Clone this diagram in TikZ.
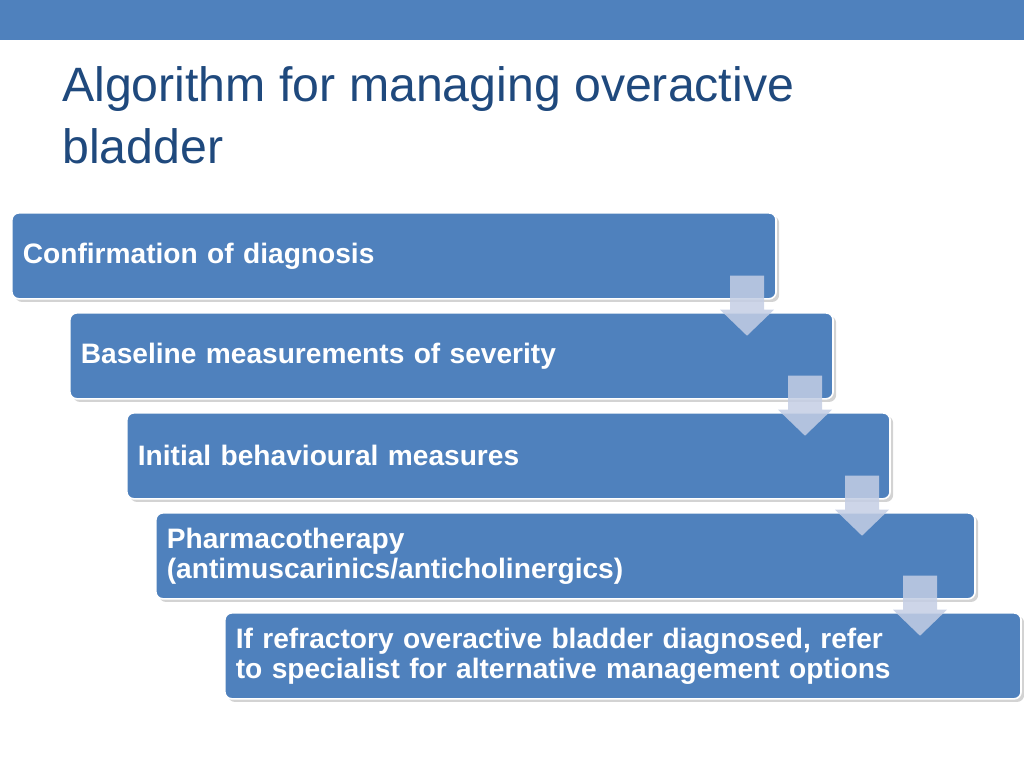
\documentclass[tikz,border=0pt]{standalone}
\usepackage{fontspec}
\setmainfont{Liberation Sans}
\usepackage{tikz}
\usetikzlibrary{shadows}
\definecolor{barblue}{RGB}{79,129,189}
\definecolor{titleblue}{RGB}{31,73,125}
\definecolor{chevfill}{RGB}{196,206,228}
\tikzstyle{etape} = [rectangle, rounded corners=5pt, fill=barblue, draw=white, line width=1.2pt, text=white, anchor=north west, minimum height=2.15cm, inner xsep=0.275cm, align=left, font=\bfseries\fontsize{20}{21.3}\selectfont, drop shadow={shadow xshift=2.2pt, shadow yshift=-2.2pt, opacity=0.35}]
\tikzstyle{fleche} = [fill=chevfill, opacity=0.85, draw=none]

\begin{document}
\begin{tikzpicture}[x=0.025cm, y=-0.025cm]
        \useasboundingbox (0,0) rectangle (1024,768);
        \fill[barblue] (0,0) rectangle (1024,40);

        \node (titre) [anchor=base west, inner sep=0pt, align=left, text=titleblue, font=\fontsize{34.3}{43.4}\selectfont] at (62,163) {Algorithm for managing overactive\\bladder};

        \node (diag) [etape, text width=18.55cm] at (11,212) {Confirmation of diagnosis};
        \node (base) [etape, text width=18.525cm] at (69,312) {Baseline measurements of severity};
        \node (comp) [etape, text width=18.525cm] at (126,412) {Initial behavioural measures};
        \node (pharma) [etape, text width=19.925cm] at (155,512) {Pharmacotherapy\\(antimuscarinics/anticholinergics)};
        \node (refer) [etape, text width=19.35cm] at (224,612) {If refractory overactive bladder diagnosed, refer\\to specialist for alternative management options};

        \coordinate (c1) at (747,0);
        \coordinate (c2) at (805,0);
        \coordinate (c3) at (862,0);
        \coordinate (c4) at (920,0);

        \fill[fleche] (c1 |- diag.south) ++(-17,-24) -- ++(34,0) -- ++(0,34) -- ++(10,0) -- ++(-27,26) -- ++(-27,-26) -- ++(10,0) -- cycle;
        \fill[fleche] (c2 |- base.south) ++(-17,-24) -- ++(34,0) -- ++(0,34) -- ++(10,0) -- ++(-27,26) -- ++(-27,-26) -- ++(10,0) -- cycle;
        \fill[fleche] (c3 |- comp.south) ++(-17,-24) -- ++(34,0) -- ++(0,34) -- ++(10,0) -- ++(-27,26) -- ++(-27,-26) -- ++(10,0) -- cycle;
        \fill[fleche] (c4 |- pharma.south) ++(-17,-24) -- ++(34,0) -- ++(0,34) -- ++(10,0) -- ++(-27,26) -- ++(-27,-26) -- ++(10,0) -- cycle;

    \end{tikzpicture}
\end{document}
